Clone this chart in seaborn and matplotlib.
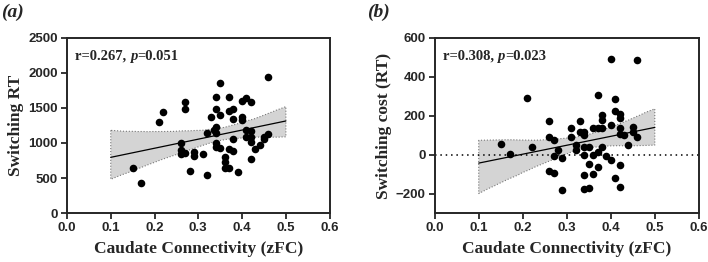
import numpy as np
import pandas as pd
import matplotlib
matplotlib.use("Agg")
import matplotlib.pyplot as plt
import seaborn as sns
from matplotlib.offsetbox import TextArea, HPacker, AnchoredOffsetbox

# panel (a): caudate connectivity vs switching RT
fc_a = [0.15, 0.17, 0.21, 0.22, 0.26, 0.26, 0.26, 0.27, 0.27, 0.27, 0.28, 0.29, 0.29,
        0.31, 0.32, 0.32, 0.33, 0.34, 0.34, 0.34, 0.335, 0.34, 0.34, 0.34, 0.35, 0.35,
        0.35, 0.36, 0.36, 0.36, 0.37, 0.37, 0.37, 0.37, 0.38, 0.38, 0.38, 0.38, 0.39,
        0.40, 0.40, 0.40, 0.41, 0.41, 0.41, 0.42, 0.42, 0.42, 0.42, 0.42, 0.43, 0.44,
        0.45, 0.45, 0.46, 0.46]
rt_a = [640, 422, 1305, 1447, 1006, 901, 845, 1589, 1485, 863, 598, 878, 816,
        845, 546, 1138, 1366, 1651, 1485, 1233, 1186, 1138, 1006, 949, 1860, 1400,
        935, 806, 735, 650, 1651, 1461, 911, 640, 1485, 1338, 1053, 887, 588,
        1598, 1376, 1328, 1646, 1186, 1091, 1589, 1176, 1091, 1020, 768, 911, 972,
        1053, 1091, 1129, 1945]

# panel (b): caudate connectivity vs switching cost
fc_b = [0.15, 0.17, 0.21, 0.22, 0.26, 0.26, 0.26, 0.27, 0.27, 0.27, 0.28, 0.29, 0.29,
        0.31, 0.31, 0.32, 0.32, 0.33, 0.33, 0.34, 0.34, 0.34, 0.34, 0.34, 0.34, 0.35,
        0.35, 0.35, 0.36, 0.36, 0.36, 0.37, 0.37, 0.37, 0.37, 0.38, 0.38, 0.38, 0.38,
        0.39, 0.40, 0.40, 0.40, 0.41, 0.41, 0.41, 0.42, 0.42, 0.42, 0.42, 0.42, 0.42,
        0.43, 0.44, 0.45, 0.45, 0.46, 0.46]
cost_b = [55, 3, 292, 41, 173, 89, -84, 75, -96, -5, 24, -19, -181,
          135, 89, 48, 24, 173, 118, 118, 101, 38, -2, -104, -178, 41,
          -48, -169, 138, -2, -97, 306, 135, 15, -62, 203, 178, 135, 41,
          -7, 494, 152, -27, 284, 226, -118, 207, 191, 135, 104, -53, -164,
          101, 48, 140, 118, 89, 485]

stats_a = ("0.267", "0.051")
stats_b = ("0.308", "0.023")

sns.set_style("ticks")
plt.rcParams["font.family"] = ["Liberation Sans", "DejaVu Sans"]
serif = "Liberation Serif"

fig = plt.figure(figsize=(7.08, 2.62), dpi=100)
ax_a = fig.add_axes([0.0946, 0.187, 0.371, 0.668])
ax_b = fig.add_axes([0.614, 0.187, 0.373, 0.668])


def draw(ax, x, y, stats, ylabel, ylim, yticks, letter, lx):
    df = pd.DataFrame({"x": x, "y": y})
    # fit line/band drawn over 0.1-0.5 like the original
    ax.set_xlim(0.1, 0.5)
    sns.regplot(data=df, x="x", y="y", ax=ax, scatter=False, truncate=False,
                ci=95, n_boot=1000, seed=3,
                line_kws=dict(color="black", lw=0.9, zorder=3))
    band = ax.collections[0]
    band.set_facecolor("#d4d4d4")
    band.set_alpha(1)
    band.set_edgecolor("#777777")
    band.set_linestyle(":")
    band.set_linewidth(0.8)
    sns.scatterplot(data=df, x="x", y="y", ax=ax, color="black", s=30,
                    linewidth=0, zorder=4)
    ax.set_xlim(0, 0.6)
    ax.set_ylim(*ylim)
    ax.set_xticks(np.arange(0, 0.61, 0.1))
    ax.set_xticklabels([f"{v:.1f}" for v in np.arange(0, 0.61, 0.1)])
    ax.set_yticks(yticks)
    ax.tick_params(labelsize=9.5, width=1.3, length=4, direction="out", pad=2.5)
    for lab in ax.get_xticklabels() + ax.get_yticklabels():
        lab.set_fontweight("bold")
    for sp in ax.spines.values():
        sp.set_visible(True)
        sp.set_linewidth(1.4)
    ax.set_xlabel("Caudate Connectivity (zFC)", family=serif, fontweight="bold",
                  fontsize=12.5, labelpad=5)
    ax.set_ylabel(ylabel, family=serif, fontweight="bold", fontsize=12.5, labelpad=3)

    parts = [TextArea(f"r={stats[0]}, ", textprops=dict(family=serif, weight="bold", size=10.5)),
             TextArea("p", textprops=dict(family=serif, weight="bold", style="italic", size=10.5)),
             TextArea(f"={stats[1]}", textprops=dict(family=serif, weight="bold", size=10.5))]
    box = HPacker(children=parts, align="baseline", pad=0, sep=0)
    anchored = AnchoredOffsetbox(loc="upper left", child=box, pad=0.2, frameon=False,
                                 bbox_to_anchor=(0.02, 0.95), bbox_transform=ax.transAxes,
                                 borderpad=0)
    ax.add_artist(anchored)

    fig.text(lx, 0.985, f"({letter})", family=serif, weight="bold", style="italic",
             fontsize=14, va="top", ha="left")


draw(ax_a, fc_a, rt_a, stats_a, "Switching RT", (0, 2500),
     [0, 500, 1000, 1500, 2000, 2500], "a", 0.001)
draw(ax_b, fc_b, cost_b, stats_b, "Switching cost (RT)", (-300, 600),
     [-200, 0, 200, 400, 600], "b", 0.519)
ax_b.axhline(0, color="black", lw=1.1, ls=(0, (1, 2.5)), zorder=2)

fig.savefig("out.png", dpi=100)
